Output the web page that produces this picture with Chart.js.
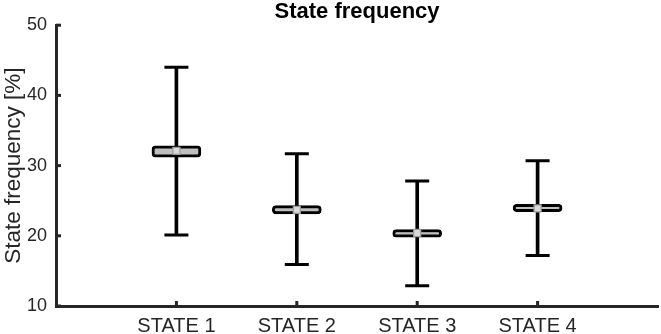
<!DOCTYPE html>
<html>
<head>
<meta charset="utf-8">
<script src="https://cdn.jsdelivr.net/npm/chart.js@4/dist/chart.umd.min.js"></script>
<style>
  html, body { margin: 0; padding: 0; background: #ffffff; }
  #wrap { width: 661px; height: 334px; }
</style>
</head>
<body>
<div id="wrap"><canvas id="c" width="661" height="334"></canvas></div>
<script>
const categories = ['STATE 1', 'STATE 2', 'STATE 3', 'STATE 4'];
const whiskerLow  = [20.1, 15.9, 12.9, 17.2];
const whiskerHigh = [44.0, 31.7, 27.8, 30.7];
const boxLow      = [31.2, 23.1, 19.8, 23.45];
const boxHigh     = [32.8, 24.3, 20.9, 24.5];
const medians     = [32.1, 23.7, 20.4, 23.9];
const yTicks      = [10, 20, 30, 40, 50];

const xs = categories.map((c, i) => i + 1);
const xAxisTicks = [0].concat(xs, [categories.length + 1]);
const axisColor = '#262626';
const FONT = '"Liberation Sans", Arial, Helvetica, sans-serif';

const innerTicks = {
  id: 'innerTicks',
  afterDraw(chart) {
    const ctx = chart.ctx;
    const xS = chart.scales.x, yS = chart.scales.y;
    const a = chart.chartArea;
    ctx.save();
    ctx.strokeStyle = axisColor;
    ctx.lineWidth = 3;
    yTicks.forEach(v => {
      const py = yS.getPixelForValue(v);
      ctx.beginPath();
      ctx.moveTo(a.left, py);
      ctx.lineTo(a.left + 5, py);
      ctx.stroke();
    });
    xs.forEach(v => {
      const px = xS.getPixelForValue(v);
      ctx.beginPath();
      ctx.moveTo(px, a.bottom);
      ctx.lineTo(px, a.bottom - 5);
      ctx.stroke();
    });
    ctx.restore();
  }
};

new Chart(document.getElementById('c'), {
  type: 'bar',
  data: {
    datasets: [
      {
        type: 'scatter',
        label: 'median',
        order: 0,
        data: xs.map((x, i) => ({ x: x, y: medians[i] })),
        pointStyle: 'rect',
        pointRadius: 5,
        backgroundColor: '#d9d9d9',
        borderColor: '#9a9a9a',
        borderWidth: 1.2
      },
      {
        type: 'bar',
        label: 'box',
        order: 1,
        grouped: false,
        data: xs.map((x, i) => ({ x: x, y: [boxLow[i], boxHigh[i]] })),
        backgroundColor: '#bfbfbf',
        borderColor: '#000000',
        borderWidth: 3,
        borderRadius: 4,
        borderSkipped: false,
        barThickness: 49
      },
      {
        type: 'scatter',
        label: 'caps',
        order: 2,
        data: xs.map((x, i) => ({ x: x, y: whiskerLow[i] }))
              .concat(xs.map((x, i) => ({ x: x, y: whiskerHigh[i] }))),
        pointStyle: 'line',
        pointRadius: 12,
        borderColor: '#000000',
        borderWidth: 3
      },
      {
        type: 'bar',
        label: 'whisker',
        order: 3,
        grouped: false,
        data: xs.map((x, i) => ({ x: x, y: [whiskerLow[i], whiskerHigh[i]] })),
        backgroundColor: '#000000',
        borderWidth: 0,
        barThickness: 3
      }
    ]
  },
  options: {
    responsive: false,
    animation: false,
    events: [],
    layout: { autoPadding: false, padding: { top: 0, right: 3, bottom: -12, left: 0 } },
    plugins: {
      legend: { display: false },
      tooltip: { enabled: false },
      title: {
        display: true,
        text: 'State frequency',
        fullSize: false,
        color: '#000000',
        font: { family: FONT, size: 22, weight: 'bold', lineHeight: 1.1 },
        padding: { top: 0, bottom: 1 }
      }
    },
    scales: {
      x: {
        type: 'linear',
        min: 0,
        max: categories.length + 1,
        offset: false,
        afterBuildTicks: (axis) => {
          axis.ticks = xAxisTicks.map(v => ({ value: v }));
        },
        ticks: {
          autoSkip: false,
          maxRotation: 0,
          color: axisColor,
          padding: 0,
          font: { family: FONT, size: 20, lineHeight: 2.0 },
          callback: (v) => categories[v - 1] || ''
        },
        grid: { drawOnChartArea: false, drawTicks: false },
        border: { display: true, color: axisColor, width: 3 }
      },
      y: {
        type: 'linear',
        min: 10,
        max: 50,
        afterBuildTicks: (axis) => {
          axis.ticks = yTicks.map(v => ({ value: v }));
        },
        ticks: {
          color: axisColor,
          padding: 9,
          font: { family: FONT, size: 18 }
        },
        title: {
          display: true,
          text: 'State frequency [%]',
          color: axisColor,
          font: { family: FONT, size: 22.5, lineHeight: 1.2 },
          padding: { top: 0, bottom: -9 }
        },
        grid: { drawOnChartArea: false, drawTicks: false },
        border: { display: true, color: axisColor, width: 3 }
      }
    }
  },
  plugins: [innerTicks]
});
</script>
</body>
</html>
